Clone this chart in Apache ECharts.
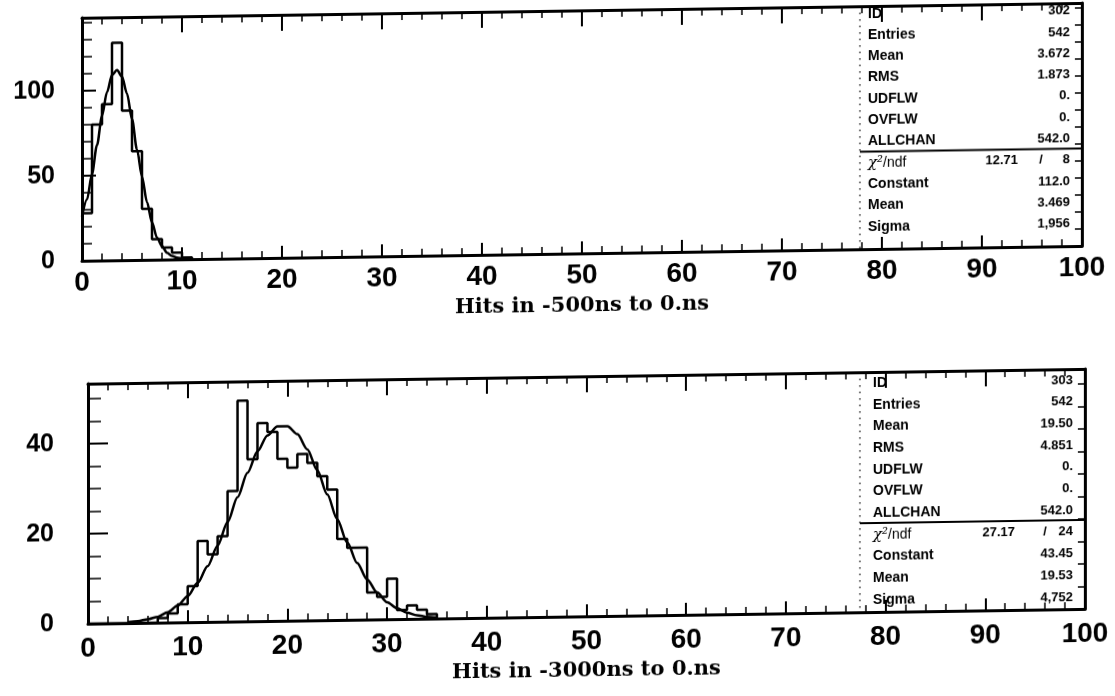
<!DOCTYPE html>
<html><head><meta charset="utf-8">
<script src="https://cdn.jsdelivr.net/npm/echarts@6/dist/echarts.min.js"></script>
<style>
html,body{margin:0;padding:0;background:#fff;overflow:hidden}
#c{width:1115px;height:696px;transform:skewY(-0.85deg);transform-origin:0 0;}
</style></head><body><div id="c"></div>
<script>
// ---- data ----
const binsTop = [28, 80, 92, 128, 88, 64, 30, 12, 7, 4, 1];            // bins of width 1 starting at 0
const binsBottom = [0, 0, 0, 0, 0, 0, 0, 1, 2, 4, 8, 18, 15, 19, 29, 49, 36, 44, 42, 36, 34, 37, 35, 32, 29, 18, 16, 16, 6, 5, 9, 2, 3, 2, 1];
const fitTopX = [0, 0.5, 1, 1.5, 2, 2.5, 3, 3.5, 4, 4.5, 5, 5.5, 6, 6.5, 7, 7.5, 8, 8.5, 9, 9.5, 10, 10.5, 11];
const fitTopY = [26, 36, 51, 68, 85, 99, 109, 112, 108, 98, 83, 65, 49, 34, 22, 13, 8, 4, 2, 1, 0.4, 0.2, 0];
const fitBottomX = [4, 5, 6, 7, 8, 9, 10, 11, 12, 13, 14, 15, 16, 17, 18, 19, 20, 21, 22, 23, 24, 25, 26, 27, 28, 29, 30, 31, 32, 33, 34, 35];
const fitBottomY = [0.2, 0.4, 0.8, 1.3, 2.3, 3.7, 5.8, 8.7, 12.4, 16.9, 22.1, 27.6, 33.0, 37.7, 41.2, 43.2, 43.2, 41.4, 38.0, 33.3, 27.9, 22.4, 17.2, 12.6, 8.9, 6.0, 3.8, 2.4, 1.4, 0.8, 0.4, 0.2];
const xTickLabels = ['0', '10', '20', '30', '40', '50', '60', '70', '80', '90', '100'];
const yTickLabelsTop = ['0', '50', '100'];
const yTickLabelsBottom = ['0', '20', '40'];
const xTitles = ['Hits in -500ns to 0.ns', 'Hits in -3000ns to 0.ns'];
const statNames = ['ID', 'Entries', 'Mean', 'RMS', 'UDFLW', 'OVFLW', 'ALLCHAN'];
const fitNames = ['Constant', 'Mean', 'Sigma'];
const statsTop = ['302', '542', '3.672', '1.873', '0.', '0.', '542.0'];
const chiTop = ['12.71', '8'];
const fitTop = ['112.0', '3.469', '1,956'];
const statsBottom = ['303', '542', '19.50', '4.851', '0.', '0.', '542.0'];
const chiBottom = ['27.17', '24'];
const fitBottom = ['43.45', '19.53', '4,752'];

// ---- helpers ----
const BLACK = '#000';
function histData(bins) {
  const d = bins.map((v, i) => [i, v]);
  d.push([bins.length, 0]);
  return d;
}
function zip(xs, ys) { return xs.map((x, i) => [x, ys[i]]); }

function xBottom(g, title, lblMargin, nameGap) {
  return {
    type: 'value', gridIndex: g, position: 'bottom', min: 0, max: 100, interval: 10,
    axisLine: { show: true, onZero: false, lineStyle: { color: BLACK, width: 3 } },
    axisTick: { show: true, inside: true, length: 12, lineStyle: { color: BLACK, width: 2 } },
    minorTick: { show: true, splitNumber: 5, length: 7, lineStyle: { color: BLACK, width: 1.5 } },
    splitLine: { show: false },
    axisLabel: {
      show: true, margin: lblMargin, color: BLACK, fontSize: 28, fontWeight: 'bold', fontFamily: 'Liberation Sans',
      formatter: v => { const s = String(v); return xTickLabels.indexOf(s) >= 0 ? s : ''; }
    },
    name: title, nameLocation: 'middle', nameGap: nameGap,
    nameTextStyle: { color: BLACK, fontSize: 21, fontWeight: 'bold', fontFamily: 'DejaVu Serif' }
  };
}
function xTop(g) {
  return {
    type: 'value', gridIndex: g, position: 'top', min: 0, max: 100, interval: 10,
    axisLine: { show: true, onZero: false, lineStyle: { color: BLACK, width: 3 } },
    axisTick: { show: true, inside: true, length: 16, lineStyle: { color: BLACK, width: 2 } },
    minorTick: { show: true, splitNumber: 5, length: 7, lineStyle: { color: BLACK, width: 1.5 } },
    splitLine: { show: false }, axisLabel: { show: false }
  };
}
function yMajor(g, max, interval, labels, tickLen, lblMargin) {
  return {
    type: 'value', gridIndex: g, position: 'left', min: 0, max: max, interval: interval,
    axisLine: { show: true, onZero: false, lineStyle: { color: BLACK, width: 3 } },
    axisTick: { show: true, inside: true, length: tickLen, lineStyle: { color: BLACK, width: 2 } },
    splitLine: { show: false },
    axisLabel: {
      show: true, margin: lblMargin, color: BLACK, fontSize: 25, fontWeight: 'bold', fontFamily: 'Liberation Sans',
      formatter: v => { const s = String(v); return labels.indexOf(s) >= 0 ? s : ''; }
    }
  };
}
function yMinor(g, max, interval, tickLen, pos) {
  return {
    type: 'value', gridIndex: g, position: pos, min: 0, max: max, interval: interval,
    axisLine: { show: pos === 'right', onZero: false, lineStyle: { color: BLACK, width: 3 } },
    axisTick: { show: true, inside: true, length: tickLen, lineStyle: { color: BLACK, width: 1.5 } },
    splitLine: { show: false }, axisLabel: { show: false }
  };
}

function statsBox(b, stats, chi, fit) {
  const els = [];
  const font = 'bold 14px "Liberation Sans"';
  const vfont = 'bold 13px "Liberation Sans"';
  els.push({ type: 'line', shape: { x1: b.left, y1: b.top, x2: b.left, y2: b.bottom },
    style: { stroke: BLACK, lineWidth: 1.2, lineDash: [1.5, 5] }, z: 10 });
  els.push({ type: 'line', shape: { x1: b.left, y1: b.sep, x2: b.right, y2: b.sep },
    style: { stroke: BLACK, lineWidth: 2 }, z: 10 });
  const names = statNames.concat(['__chi__'], fitNames);
  const vals = stats.concat([null], fit);
  names.forEach((n, i) => {
    const y = b.row0 + b.rowH * i;
    if (n === '__chi__') {
      els.push({ type: 'text', x: b.labelX, y: y, z: 10, style: {
        text: '{c|χ²}{n|/ndf}', verticalAlign: 'middle', align: 'left', fill: BLACK,
        rich: { c: { fontFamily: 'DejaVu Serif', fontStyle: 'italic', fontSize: 15, fill: BLACK },
                n: { fontFamily: 'Liberation Sans', fontSize: 14, fill: BLACK } } } });
      els.push({ type: 'text', x: b.chiX, y: y, z: 10, style: { text: chi[0], font: vfont, fill: BLACK, align: 'right', verticalAlign: 'middle' } });
      els.push({ type: 'text', x: b.slashX, y: y, z: 10, style: { text: '/', font: vfont, fill: BLACK, align: 'center', verticalAlign: 'middle' } });
      els.push({ type: 'text', x: b.valueX, y: y, z: 10, style: { text: chi[1], font: vfont, fill: BLACK, align: 'right', verticalAlign: 'middle' } });
    } else {
      els.push({ type: 'text', x: b.labelX, y: y, z: 10, style: { text: n, font: font, fill: BLACK, align: 'left', verticalAlign: 'middle' } });
      els.push({ type: 'text', x: b.valueX, y: y, z: 10, style: { text: vals[i], font: vfont, fill: BLACK, align: 'right', verticalAlign: 'middle' } });
    }
  });
  return els;
}

const chart = echarts.init(document.getElementById('c'), null, { renderer: 'canvas' });
const lineStyleHist = { color: BLACK, width: 2.5 };
const option = {
  animation: false,
  backgroundColor: '#fff',
  grid: [
    { left: 82, top: 19, width: 1000, height: 243 },
    { left: 88, top: 385, width: 997, height: 240 }
  ],
  xAxis: [
    xBottom(0, xTitles[0], 8, 42), xTop(0),
    xBottom(1, xTitles[1], 11, 44), xTop(1)
  ],
  yAxis: [
    yMajor(0, 143, 50, yTickLabelsTop, 14, 27),
    yMinor(0, 143, 10, 10, 'left'),
    yMinor(0, 143, 10, 7, 'right'),
    yMajor(1, 53.3, 20, yTickLabelsBottom, 20, 34),
    yMinor(1, 53.3, 5, 13, 'left'),
    yMinor(1, 53.3, 5, 7, 'right')
  ],
  series: [
    { type: 'line', xAxisIndex: 0, yAxisIndex: 0, step: 'end', symbol: 'none', data: histData(binsTop), lineStyle: lineStyleHist },
    { type: 'line', xAxisIndex: 0, yAxisIndex: 0, smooth: 0.3, smoothMonotone: 'x', symbol: 'none', data: zip(fitTopX, fitTopY), lineStyle: lineStyleHist },
    { type: 'line', xAxisIndex: 2, yAxisIndex: 3, step: 'end', symbol: 'none', data: histData(binsBottom), lineStyle: lineStyleHist },
    { type: 'line', xAxisIndex: 2, yAxisIndex: 3, smooth: 0.3, smoothMonotone: 'x', symbol: 'none', data: zip(fitBottomX, fitBottomY), lineStyle: lineStyleHist }
  ],
  graphic: statsBox({ left: 860, top: 19, right: 1082, bottom: 262, sep: 164.5, row0: 26.7, rowH: 21.3, labelX: 868, valueX: 1070, chiX: 1018, slashX: 1041 }, statsTop, chiTop, fitTop)
    .concat(statsBox({ left: 860, top: 385, right: 1085, bottom: 625, sep: 536, row0: 396, rowH: 21.7, labelX: 873, valueX: 1073, chiX: 1015, slashX: 1045 }, statsBottom, chiBottom, fitBottom))
};
chart.setOption(option);
</script>
</body></html>
